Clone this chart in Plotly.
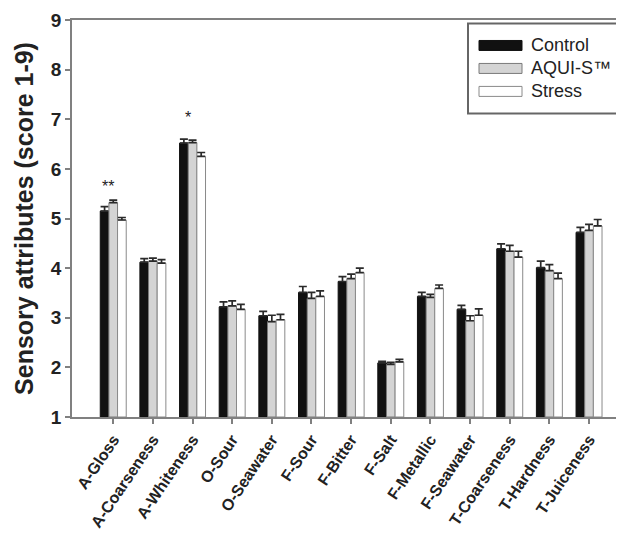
import plotly.graph_objects as go

categories = ["A-Gloss", "A-Coarseness", "A-Whiteness", "O-Sour", "O-Seawater", "F-Sour",
              "F-Bitter", "F-Salt", "F-Metallic", "F-Seawater", "T-Coarseness", "T-Hardness",
              "T-Juiceness"]
series_names = ["Control", "AQUI-S\u2122", "Stress"]
control = [5.15, 4.12, 6.52, 3.22, 3.04, 3.51, 3.73, 2.09, 3.43, 3.17, 4.39, 4.01, 4.72]
control_err = [0.09, 0.07, 0.08, 0.10, 0.09, 0.12, 0.10, 0.03, 0.08, 0.08, 0.10, 0.13, 0.10]
aquis = [5.32, 4.14, 6.53, 3.24, 2.92, 3.39, 3.79, 2.06, 3.41, 2.94, 4.34, 3.95, 4.76]
aquis_err = [0.05, 0.06, 0.05, 0.10, 0.13, 0.12, 0.09, 0.04, 0.06, 0.10, 0.12, 0.12, 0.12]
stress = [4.97, 4.10, 6.25, 3.17, 2.96, 3.43, 3.91, 2.11, 3.59, 3.05, 4.22, 3.79, 4.85]
stress_err = [0.05, 0.07, 0.08, 0.10, 0.11, 0.11, 0.09, 0.05, 0.07, 0.13, 0.12, 0.11, 0.13]
sig_categories = ["A-Gloss", "A-Whiteness"]
sig_labels = ["**", "*"]
sig_y = [5.64, 7.03]

values = [control, aquis, stress]
errors = [control_err, aquis_err, stress_err]
fills = ["#111111", "#d4d4d4", "#ffffff"]
lines = ["#111111", "#7a7a7a", "#8a8a8a"]

FONT = "Liberation Sans, Arial, sans-serif"
OFF = 8  # page body margin offset
fig = go.Figure()
for name, v, e, fc, lc in zip(series_names, values, errors, fills, lines):
    fig.add_trace(go.Bar(
        x=categories, y=[val - 1 for val in v], base=1, name=name,
        marker=dict(color=fc, line=dict(color=lc, width=1)),
        error_y=dict(type="data", array=e, arrayminus=[0] * len(e), symmetric=False,
                     color="#2a2a2a", thickness=1.7, width=4),
        showlegend=False,
    ))

for c, lab, yv in zip(sig_categories, sig_labels, sig_y):
    fig.add_annotation(x=c, y=yv, text=lab, showarrow=False, xshift=-5,
                       font=dict(family=FONT, size=16, color="#222"))

# plot area in figure pixels (screen position minus page offset)
W, H = 608, 528
L, R, T, B = 72 - OFF, W, 19.5 - OFF, 417 - OFF
def px(xs):
    return (xs - OFF - L) / (R - L)
def py(ys):
    return (B - (ys - OFF)) / (B - T)

fig.add_shape(type="rect", xref="paper", yref="paper", x0=px(468), x1=px(640),
              y0=py(113), y1=py(23), line=dict(color="#666666", width=2), fillcolor="white")
row_y = [45, 68, 91]
for name, fc, lc, ry in zip(series_names, fills, lines, row_y):
    fig.add_shape(type="rect", xref="paper", yref="paper", x0=px(479), x1=px(522),
                  y0=py(ry + 5), y1=py(ry - 5), line=dict(color=lc, width=1), fillcolor=fc)
    fig.add_annotation(xref="paper", yref="paper", x=px(529), y=py(ry), text=name,
                       showarrow=False, xanchor="left", yanchor="middle",
                       font=dict(family=FONT, size=18, color="#222"))

fig.update_layout(
    width=W, height=H,
    margin=dict(l=L, r=W - R, t=T, b=H - B, autoexpand=False),
    paper_bgcolor="white", plot_bgcolor="white",
    barmode="group", bargap=0.345, bargroupgap=0,
    font=dict(family=FONT, color="#222"),
)
fig.update_xaxes(
    range=[-1.04, -1.04 + (R - L) / 39.65], showline=True, linecolor="#808080", linewidth=2,
    mirror=True,
    ticks="outside", ticklen=5, tickcolor="#808080", tickwidth=1.5, tickangle=-56,
    tickfont=dict(family=FONT, size=16, color="#222", weight="bold"), showgrid=False,
)
fig.update_yaxes(
    range=[1, 9], dtick=1, showline=True, linecolor="#808080", linewidth=1.5, mirror=False,
    ticks="outside", ticklen=5, tickcolor="#808080", tickwidth=1.5,
    tickfont=dict(family=FONT, size=19, color="#222", weight="bold"), showgrid=False,
    zeroline=False,
    title=dict(text="Sensory attributes (score 1-9)", standoff=10,
               font=dict(family=FONT, size=25, color="#222", weight="bold")),
)

fig.write_html("out.html")
